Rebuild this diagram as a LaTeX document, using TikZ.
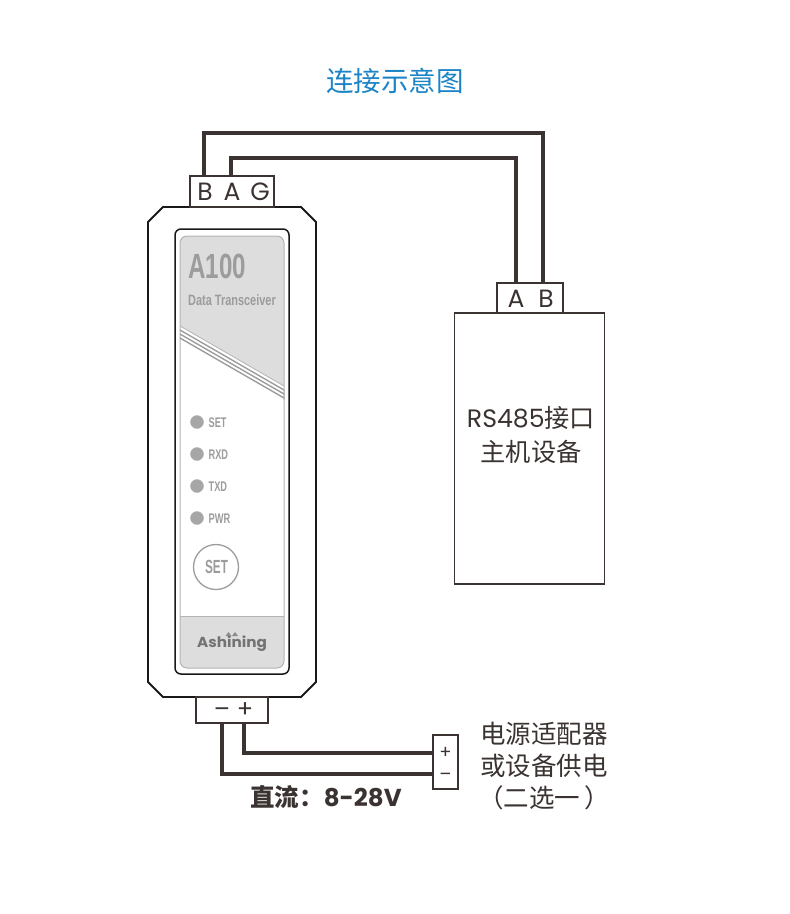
\documentclass[tikz,border=0pt]{standalone}
\usepackage{fontspec}
\usepackage{tikz}
\usetikzlibrary{positioning}
\setmainfont{Noto Sans CJK SC}
\newfontfamily\latinfont{Poppins}
\newfontfamily\panelfont{Liberation Sans}
\definecolor{wirecolor}{HTML}{3A3331}
\definecolor{titleblue}{HTML}{1C84C6}
\definecolor{panelgray}{HTML}{DDDDDD}
\definecolor{edgegray}{HTML}{B4B4B4}
\definecolor{printgray}{HTML}{9C9C9C}
\tikzset{
  wire/.style={line width=3.6pt,color=wirecolor,line cap=butt,line join=miter},
  thinbox/.style={draw=wirecolor,line width=1.2pt,inner sep=0pt,outer sep=0pt,fill=white},
  pin/.style={font=\fontsize{25}{25}\selectfont\latinfont,text=wirecolor,inner sep=0pt},
  sign/.style={font=\fontsize{24}{24}\selectfont\latinfont,text=wirecolor,inner sep=0pt},
  supplysign/.style={font=\fontsize{18}{18}\selectfont\latinfont,text=wirecolor,inner sep=0pt},
  caption/.style={font=\fontsize{25.2}{34}\selectfont,text=wirecolor,align=center,inner sep=0pt},
  ledlabel/.style={font=\fontsize{14}{14}\panelfont\bfseries,text=printgray,inner sep=0pt,anchor=west,xscale=.66,transform shape},
  led/.style={circle,fill=printgray!90,draw=edgegray,line width=.5pt,minimum size=13pt,inner sep=0pt},
  stripe/.style={printgray,line width=1.4pt}
}

\begin{document}
\begin{tikzpicture}[x=1pt,y=-1pt]
  \useasboundingbox (0,0) rectangle (790,914);

  \node at (395,81) [font=\fontsize{27.5}{27.5}\selectfont,text=titleblue,inner sep=0pt] (title) {
    连接示意图
  };

  \draw[black!90,line width=1.8pt] (163,207) -- (301,207) -- (316,222) -- (316,682) -- (301,697) -- (163,697) -- (148,682) -- (148,222) -- cycle;

  \node at (232,451.5) [draw=black!90,line width=1.5pt,rounded corners=6pt,minimum width=114pt,minimum height=445pt,inner sep=0pt] (bezel) {};

  \fill[panelgray] (180,326) [rounded corners=7pt] -- (180,236) -- (284,236) [sharp corners] -- (284,386) -- cycle;
  \fill[panelgray] (180,616) [rounded corners=7pt] -- (180,668) -- (284,668) [sharp corners] -- (284,616) -- cycle;
  \draw[edgegray,line width=1pt,rounded corners=7pt] (180,340) -- (180,236) -- (284,236) -- (284,400);
  \draw[edgegray,line width=1pt,rounded corners=7pt] (180,340) -- (180,668) -- (284,668) -- (284,390);
  \draw[edgegray,line width=1pt] (180,616) -- (284,616);

  \draw[edgegray,line width=.8pt] (180,326) -- (284,386);
  \draw[stripe] (180,330) -- (284,390);
  \draw[stripe] (180,334) -- (284,394);
  \draw[stripe] (180,338) -- (284,398);

  \node at (188,266) [anchor=west,font=\fontsize{35}{35}\panelfont\bfseries,text=printgray,inner sep=0pt,xscale=.69,transform shape] (model) {A100};
  \node at (188,300) [anchor=west,font=\fontsize{15}{15}\panelfont\bfseries,text=printgray,inner sep=0pt,xscale=.73,transform shape] (subtitle) {Data Transceiver};

  \node at (197,422) [led] (ledset) {};
  \node at (197,454) [led] (ledrxd) {};
  \node at (197,486) [led] (ledtxd) {};
  \node at (197,518) [led] (ledpwr) {};

  \node at (208.5,422.5) [ledlabel] (setlabel) {SET};
  \node at (208.5,454.5) [ledlabel] (rxdlabel) {RXD};
  \node at (208.5,486.5) [ledlabel] (txdlabel) {TXD};
  \node at (208.5,518.5) [ledlabel] (pwrlabel) {PWR};

  \node at (216,567) [circle,draw=printgray,line width=1.3pt,minimum size=45pt,inner sep=0pt] (setbutton) {};
  \node at (216.5,567) [font=\fontsize{19}{19}\panelfont\bfseries,text=printgray,inner sep=0pt,xscale=.62,transform shape] (setbuttonlabel) {SET};

  \node at (232,643.5) [font=\fontsize{14.5}{14.5}\latinfont\bfseries,text=black!55,inner sep=0pt,xscale=1.05,transform shape] (brand) {Ashining};
  \fill[black!45] (225.5,636) -- (228.5,632) -- (231.5,636) -- cycle;
  \fill[black!45] (232,636) -- (235,632) -- (238,636) -- cycle;

  \node at (232,191.5) [thinbox,minimum width=84pt,minimum height=31pt] (bagblock) {};
  \node at (205,192) [pin] (pinb) {B};
  \node at (232,192) [pin] (pina) {A};
  \node at (260,192) [pin] (ping) {G};

  \node at (232,710) [thinbox,minimum width=72pt,minimum height=26pt] (powerblock) {};
  \node at (222,710) [sign] (pinminus) {\vphantom{+}–};
  \node at (245,710) [sign] (pinplus) {+};

  \node at (529.5,448.5) [thinbox,minimum width=150pt,minimum height=271pt] (host) {};
  \node at (530,298) [thinbox,minimum width=66pt,minimum height=30pt] (hostblock) {};
  \node at (516,299) [pin] (hosta) {A};
  \node at (546,299) [pin] (hostb) {B};

  \node at (531,435) [caption] (hostlabel) {
    {\latinfont RS485}接口\\
    主机设备
  };

  \node at (445.5,762) [thinbox,minimum width=25pt,minimum height=54pt] (supply) {};
  \node at (445.5,753) [supplysign] (supplyplus) {+};
  \node at (445.5,775) [supplysign] (supplyminus) {\vphantom{+}–};

  \node at (544,766) [caption,font=\fontsize{25.5}{32}\selectfont] (supplylabel) {
    电源适配器\\
    或设备供电\\
    （二选一\,）
  };

  \node at (326,797) [font=\fontsize{24.5}{24.5}\bfseries,text=wirecolor,inner sep=0pt] (voltage) {
    直流：{\latinfont\bfseries 8-28V}
  };

  \coordinate (cornerb) at (543,133);
  \coordinate (cornera) at (516,158);
  \coordinate (cornerplus) at (244,753);
  \coordinate (cornerminus) at (222,774);

  \draw[wire] (204,176) |- (cornerb) -- (cornerb |- hostblock.north);
  \draw[wire] (231,176) |- (cornera) -- (cornera |- hostblock.north);
  \draw[wire] (cornerplus |- powerblock.south) -- (cornerplus) -- (cornerplus -| supply.west);
  \draw[wire] (cornerminus |- powerblock.south) -- (cornerminus) -- (cornerminus -| supply.west);
\end{tikzpicture}
\end{document}
